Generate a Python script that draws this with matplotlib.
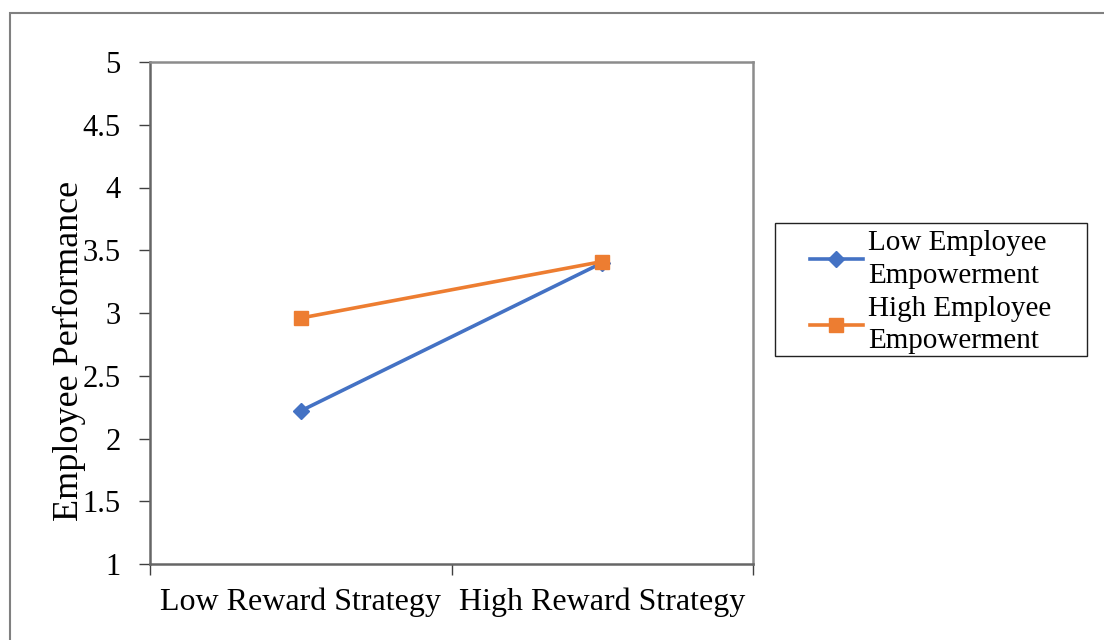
import matplotlib.pyplot as plt
from matplotlib.patches import Rectangle

categories = ["Low Reward Strategy", "High Reward Strategy"]
low_empowerment = [2.22, 3.40]
high_empowerment = [2.96, 3.41]
y_ticks = [1, 1.5, 2, 2.5, 3, 3.5, 4, 4.5, 5]
y_tick_labels = ["1", "1.5", "2", "2.5", "3", "3.5", "4", "4.5", "5"]

plt.rcParams["font.family"] = ["Liberation Serif", "DejaVu Serif"]

fig = plt.figure(figsize=(11.04, 6.4), dpi=100)
ax = fig.add_axes([150 / 1104, 76 / 640, 603 / 1104, 502 / 640])

x = list(range(len(categories)))
ax.plot(x, low_empowerment, color="#4472C4", lw=2.6, marker="D", ms=8,
        label="Low Employee\nEmpowerment", zorder=3)
ax.plot(x, high_empowerment, color="#ED7D31", lw=2.6, marker="s", ms=10,
        label="High Employee\nEmpowerment", zorder=3)

ax.set_xlim(-0.5, 1.5)
ax.set_ylim(1, 5)
ax.set_yticks(y_ticks)
ax.set_yticklabels(y_tick_labels, fontsize=22)
ax.set_xticks([-0.5, 0.5, 1.5])
ax.set_xticklabels([])
ax.set_xticks(x, minor=True)
ax.set_xticklabels(categories, minor=True, fontsize=23)
ax.tick_params(axis="x", which="minor", length=0, pad=17)
ax.tick_params(axis="x", which="major", length=8, color="#404040", width=1)
ax.tick_params(axis="y", length=8, color="#404040", width=1, pad=13)
for side in ax.spines:
    ax.spines[side].set_color("#8c8c8c")
    ax.spines[side].set_linewidth(1.8)
ax.spines["left"].set_color("#666666")
ax.spines["bottom"].set_color("#666666")
ax.set_ylabel("Employee Performance", fontsize=26)
ax.yaxis.set_label_coords(-0.106, 0.424)

leg = fig.legend(loc="upper left", bbox_to_anchor=(810 / 1104, 1 - 230 / 640),
                 fontsize=21, frameon=False, handlelength=1.8,
                 handletextpad=0.2, borderpad=0, labelspacing=0.25,
                 borderaxespad=0)
for t in leg.get_texts():
    t.set_linespacing(1.33)

# legend frame and outer chart border, as in the source chart
fig.patches.append(Rectangle((775 / 1104, 1 - 356 / 640), 312 / 1104, 133 / 640,
                             transform=fig.transFigure, fill=False,
                             edgecolor="#222222", lw=1))
fig.patches.append(Rectangle((10 / 1104, -0.1), 1.2, 1.1 - 13 / 640,
                             transform=fig.transFigure, fill=False,
                             edgecolor="#808080", lw=1.5))

fig.savefig("out.png", dpi=100)
